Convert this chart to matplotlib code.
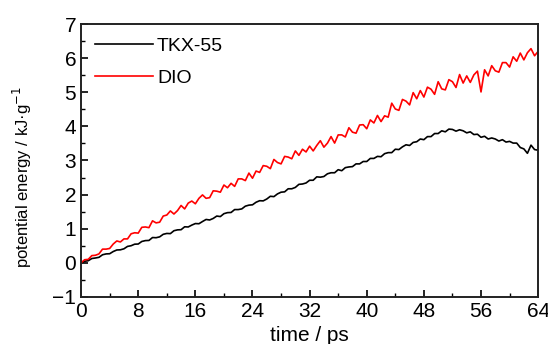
import matplotlib
matplotlib.use("Agg")
import matplotlib.pyplot as plt
import numpy as np
from matplotlib.ticker import MultipleLocator

plt.rcParams['font.family'] = ['Liberation Sans', 'DejaVu Sans']

# time axis, 0.5 ps steps
time = np.arange(0, 64.01, 0.5)

# values, one row per 8 ps
tkx55 = [
    0.00, 0.045, 0.06, 0.125, 0.14, 0.16, 0.235, 0.26, 0.265, 0.33, 0.375, 0.38, 0.41, 0.48, 0.50, 0.545,
    0.55, 0.625, 0.65, 0.655, 0.74, 0.735, 0.76, 0.835, 0.86, 0.855, 0.94, 0.965, 0.97, 1.055, 1.05, 1.105,
    1.15, 1.145, 1.21, 1.27, 1.255, 1.30, 1.37, 1.355, 1.44, 1.47, 1.475, 1.56, 1.56, 1.58, 1.66, 1.69,
    1.70, 1.775, 1.82, 1.815, 1.87, 1.95, 1.94, 2.02, 2.07, 2.08, 2.17, 2.17, 2.21, 2.30, 2.31, 2.34,
    2.42, 2.42, 2.52, 2.51, 2.53, 2.61, 2.64, 2.64, 2.73, 2.70, 2.79, 2.81, 2.82, 2.90, 2.90, 2.97,
    2.97, 3.06, 3.06, 3.12, 3.11, 3.20, 3.23, 3.23, 3.33, 3.32, 3.40, 3.46, 3.44, 3.53, 3.55, 3.63,
    3.61, 3.70, 3.70, 3.79, 3.79, 3.87, 3.84, 3.92, 3.91, 3.86, 3.90, 3.87, 3.81, 3.84, 3.76, 3.77,
    3.68, 3.71, 3.63, 3.66, 3.63, 3.57, 3.61, 3.54, 3.56, 3.51, 3.51, 3.38, 3.34, 3.21, 3.45, 3.32,
    3.30,
]

dio = [
    0.00, 0.09, 0.10, 0.21, 0.22, 0.26, 0.40, 0.40, 0.42, 0.55, 0.64, 0.61, 0.70, 0.70, 0.85, 0.88,
    0.87, 1.04, 1.05, 1.03, 1.23, 1.17, 1.19, 1.37, 1.40, 1.52, 1.43, 1.53, 1.68, 1.58, 1.75, 1.81,
    1.73, 1.89, 1.99, 1.89, 1.91, 2.11, 2.10, 2.07, 2.28, 2.20, 2.33, 2.24, 2.46, 2.46, 2.41, 2.63,
    2.48, 2.69, 2.65, 2.85, 2.83, 2.76, 3.03, 2.94, 2.90, 3.12, 3.10, 3.05, 3.28, 3.15, 3.33, 3.25,
    3.42, 3.28, 3.44, 3.58, 3.39, 3.51, 3.70, 3.51, 3.75, 3.75, 3.69, 3.96, 3.83, 3.80, 4.04, 4.05,
    3.93, 4.19, 4.10, 4.32, 4.14, 4.31, 4.27, 4.68, 4.51, 4.47, 4.79, 4.74, 4.63, 4.99, 4.81, 5.05,
    4.86, 5.15, 5.09, 4.94, 5.31, 5.10, 5.07, 5.37, 5.31, 5.14, 5.52, 5.27, 5.48, 5.29, 5.51, 5.62,
    5.01, 5.66, 5.48, 5.78, 5.63, 5.59, 5.87, 5.87, 5.74, 6.04, 5.91, 6.15, 5.95, 6.16, 6.28, 6.07,
    6.20,
]

fig = plt.figure(figsize=(5.48, 3.44), dpi=100)
ax = fig.add_axes([0.148, 0.137, 0.834, 0.793])

ax.plot(time, tkx55, color='black', lw=1.2, label='TKX-55')
ax.plot(time, dio, color='red', lw=1.2, label='DIO')

ax.set_xlim(0, 64)
ax.set_ylim(-1, 7)
ax.xaxis.set_major_locator(MultipleLocator(8))
ax.xaxis.set_minor_locator(MultipleLocator(4))
ax.yaxis.set_major_locator(MultipleLocator(1))
ax.yaxis.set_minor_locator(MultipleLocator(0.5))
ax.tick_params(which='both', direction='in', top=False, right=False, labelsize=15)
ax.tick_params(which='major', length=5, width=1.2)
ax.tick_params(which='minor', length=3, width=1.0)
for s in ax.spines.values():
    s.set_linewidth(1.4)
    s.set_color('#222222')

ax.set_xlabel('time / ps', fontsize=15, labelpad=4)
ax.set_ylabel('potential energy / kJ·g$^{-1}$', fontsize=12)
ax.yaxis.set_label_coords(-0.103, 0.44)

ax.legend(loc='upper left', frameon=False, fontsize=14, handlelength=3.0,
          handletextpad=0.2, labelspacing=0.7, borderaxespad=0.3)

fig.savefig('out.png', dpi=100)
